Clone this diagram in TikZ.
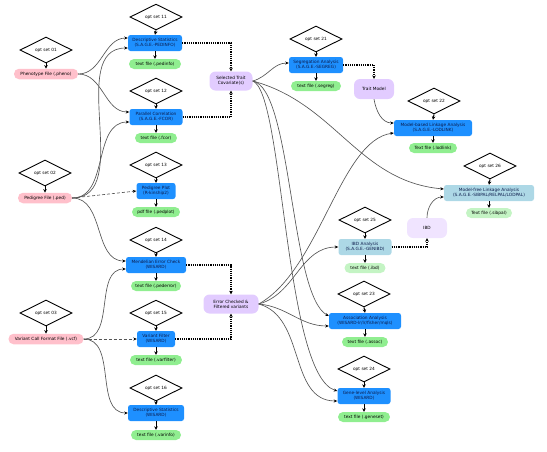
\documentclass[tikz,border=0pt]{standalone}
\usepackage{fontspec}
\setmainfont{DejaVu Sans}
\usetikzlibrary{shapes.geometric,arrows.meta,calc}
\definecolor{procblue}{HTML}{1E90FF}
\definecolor{lightproc}{HTML}{ADD8E6}
\definecolor{filegreen}{HTML}{90EE90}
\definecolor{lightfile}{HTML}{C4F4C4}
\definecolor{inpink}{HTML}{FFC0CB}
\definecolor{interpurple}{HTML}{E2CCFF}
\definecolor{lightpurple}{HTML}{F0E4FF}
\definecolor{navytext}{HTML}{0B1A4A}
\definecolor{edgegray}{HTML}{555555}
\begin{document}
\begin{tikzpicture}[x=1pt,y=1pt,
  every node/.style={font=\fontsize{4.3}{5.1}\selectfont, inner sep=1pt, align=center},
  optdia/.style={diamond, draw=black, line width=0.9pt, minimum width=52pt, minimum height=23pt, inner sep=0pt},
  procbox/.style={fill=procblue, rounded corners=2.5pt, minimum height=16pt, text=navytext},
  lightbox/.style={fill=lightproc, rounded corners=2.5pt, minimum height=16pt, text=navytext},
  filebox/.style={fill=filegreen, rounded corners=5pt, minimum height=10pt},
  lightfilebox/.style={fill=lightfile, rounded corners=5pt, minimum height=10pt},
  inbox/.style={fill=inpink, rounded corners=5pt, minimum height=10.5pt},
  interbox/.style={fill=interpurple, rounded corners=6pt, minimum height=19pt},
  lightinter/.style={fill=lightpurple, rounded corners=6pt, minimum height=20pt},
  optarrow/.style={-{Stealth[length=3.5pt,width=3.5pt]}, line width=1pt, black},
  dataflow/.style={-{Stealth[length=3.5pt,width=3pt,color=black]}, line width=0.65pt, edgegray},
  dashflow/.style={-{Stealth[length=3.5pt,width=3pt,color=black]}, line width=0.65pt, edgegray, densely dashed},
  dotflow/.style={-{Stealth[length=3.5pt,width=3.5pt]}, line width=1.2pt, black, densely dotted}
]
\useasboundingbox (0,0) rectangle (547,-451);

% inputs
\node[optdia] (d01) at (46,-50) {opt set 01};
\node[inbox, minimum width=64pt] (pheno) at (46,-74) {Phenotype File (.pheno)};
\node[optdia] (d02) at (45,-173) {opt set 02};
\node[inbox, minimum width=54pt] (ped) at (45,-198) {Pedigree File (.ped)};
\node[optdia] (d03) at (46,-313) {opt set 03};
\node[inbox, minimum width=75pt] (vcf) at (46,-339) {Variant Call Format File (.vcf)};

% column 2
\node[optdia] (d11) at (156,-17) {opt set 11};
\node[procbox, minimum width=54pt] (ds1) at (155,-43) {Descriptive Statistics\\(S.A.G.E.-PEDINFO)};
\node[filebox, minimum width=52pt] (f11) at (155,-64) {text file (.pedinfo)};

\node[optdia] (d12) at (156,-91) {opt set 12};
\node[procbox, minimum width=53pt] (pc) at (156,-117) {Parallel Correlation\\(S.A.G.E.-FCOR)};
\node[filebox, minimum width=42pt] (f12) at (156,-138) {text file (.fcor)};

\node[optdia] (d13) at (156,-165) {opt set 13};
\node[procbox, minimum width=39pt] (pp) at (156,-191) {Pedigree Plot\\(R-kinship2)};
\node[filebox, minimum width=48pt] (f13) at (156,-212) {pdf file (.pedplot)};

\node[optdia] (d14) at (156,-240) {opt set 14};
\node[procbox, minimum width=60pt] (mec) at (156,-265) {Mendelian Error Check\\(WISARD)};
\node[filebox, minimum width=50pt] (f14) at (156,-286) {text file (.pederror)};

\node[optdia] (d15) at (156,-313) {opt set 15};
\node[procbox, minimum width=38pt] (vf) at (156,-339) {Variant Filter\\(WISARD)};
\node[filebox, minimum width=52pt] (f15) at (156,-360) {text file (.varfilter)};

\node[optdia] (d16) at (156,-388) {opt set 16};
\node[procbox, minimum width=56pt] (dsw) at (156,-413) {Descriptive Statistics\\(WISARD)};
\node[filebox, minimum width=50pt] (f16) at (156,-435) {text file (.varinfo)};

% intermediate
\node[interbox, minimum width=43pt] (sel) at (231,-81) {Selected Trait\\Covariate(s)};
\node[interbox, minimum width=55pt] (ecv) at (231,-304) {Error Checked \&\\Filtered variants};

% right part
\node[optdia] (d21) at (316,-39) {opt set 21};
\node[procbox, minimum width=54pt] (seg) at (316,-65) {Segregation Analysis\\(S.A.G.E.-SEGREG)};
\node[filebox, minimum width=50pt] (f21) at (316,-86) {text file (.segreg)};

\node[interbox, minimum width=40pt, minimum height=20pt] (tm) at (374,-89) {Trait Model};

\node[optdia] (d22) at (434,-101) {opt set 22};
\node[procbox, minimum width=78pt] (mbl) at (433,-128) {Model-based Linkage Analysis\\(S.A.G.E.-LODLINK)};
\node[filebox, minimum width=48pt] (f22) at (433,-148) {Text file (.lodlink)};

\node[optdia] (d26) at (490,-166) {opt set 26};
\node[lightbox, minimum width=90pt] (mfl) at (489,-193) {Model-free Linkage Analysis\\(S.A.G.E.-SIBPAL/RELPAL/LODPAL)};
\node[lightfilebox, minimum width=46pt] (f26) at (489,-213) {Text file (.sibpal)};

\node[lightinter, minimum width=40pt] (ibd) at (427,-228) {IBD};

\node[optdia] (d25) at (365,-220) {opt set 25};
\node[lightbox, minimum width=53pt] (ibda) at (365,-247) {IBD Analysis\\(S.A.G.E.-GENIBD)};
\node[lightfilebox, minimum width=41pt] (f25) at (365,-268) {text file (.ibd)};

\node[optdia] (d23) at (364,-294) {opt set 23};
\node[procbox, minimum width=72pt] (aa) at (365,-321) {Association Analysis\\(WISARD-lr/lr/fisher/mqls)};
\node[filebox, minimum width=46pt] (f23) at (365,-342) {text file (.assoc)};

\node[optdia] (d24) at (364,-369) {opt set 24};
\node[procbox, minimum width=53pt] (gla) at (364,-396) {Gene-level Analysis\\(WISARD)};
\node[filebox, minimum width=52pt] (f24) at (364,-417) {text file (.geneset)};

% option and output arrows
\foreach \d/\p/\f in {d11/ds1/f11, d12/pc/f12, d13/pp/f13, d14/mec/f14, d15/vf/f15, d16/dsw/f16,
                      d21/seg/f21, d22/mbl/f22, d26/mfl/f26, d25/ibda/f25, d23/aa/f23, d24/gla/f24}{
  \draw[optarrow] (\d.south) -- (\p.north);
  \draw[optarrow] (\p.south) -- (\f.north);
}
\draw[optarrow] (d01.south) -- (pheno.north);
\draw[optarrow] (d02.south) -- (ped.north);
\draw[optarrow] (d03.south) -- (vcf.north);

% dotted elbows
\draw[dotflow] (ds1.east) -| (sel.north);
\draw[dotflow] (pc.east) -| (sel.south);
\draw[dotflow] (mec.east) -| (ecv.north);
\draw[dotflow] (vf.east) -| (ecv.south);
\draw[dotflow] (seg.east) -| (tm.north);
\draw[dotflow] (ibda.east) -| (ibd.south);

% data flows from input files
\draw[dataflow] (pheno.east) to[out=0,in=180] ($(ds1.west)+(0,5)$);
\draw[dataflow] (pheno.east) to[out=0,in=180] ($(pc.west)+(0,5)$);
\draw[dataflow] (ped.east) to[out=0,in=180] ($(ds1.west)+(0,-5)$);
\draw[dataflow] (ped.east) to[out=0,in=180] ($(pc.west)+(0,-5)$);
\draw[dashflow] (ped.east) -- (pp.west);
\draw[dataflow] (ped.east) to[out=0,in=180] ($(mec.west)+(0,4)$);
\draw[dataflow] (vcf.east) to[out=0,in=180] ($(mec.west)+(0,-4)$);
\draw[dashflow] (vcf.east) -- (vf.west);
\draw[dataflow] (vcf.east) to[out=0,in=180] (dsw.west);

% from selected trait
\draw[dataflow] (sel.east) to[out=15,in=180] ($(seg.west)+(0,2)$);
\draw[dataflow] (sel.east) to[out=-15,in=175] ($(mfl.west)+(0,4)$);
\draw[dataflow] (sel.east) .. controls (292,-88) and (290,-295) .. ($(aa.west)+(0,5)$);
\draw[dataflow] (sel.east) .. controls (284,-92) and (284,-375) .. ($(gla.west)+(0,5)$);

% from error checked variants
\draw[dataflow] (ecv.east) .. controls (320,-270) and (340,-140) .. ($(mbl.west)+(0,-5)$);
\draw[dataflow] (ecv.east) to[out=15,in=180] (ibda.west);
\draw[dataflow] (ecv.east) to[out=-5,in=180] ($(aa.west)+(0,-5)$);
\draw[dataflow] (ecv.east) to[out=-15,in=180] ($(gla.west)+(0,-5)$);

% trait model and IBD
\draw[dataflow] (tm.south) to[out=-80,in=180] ($(mbl.west)+(0,5)$);
\draw[dataflow] (ibd.north) to[out=90,in=180] ($(mfl.west)+(0,-4)$);
\end{tikzpicture}
\end{document}
